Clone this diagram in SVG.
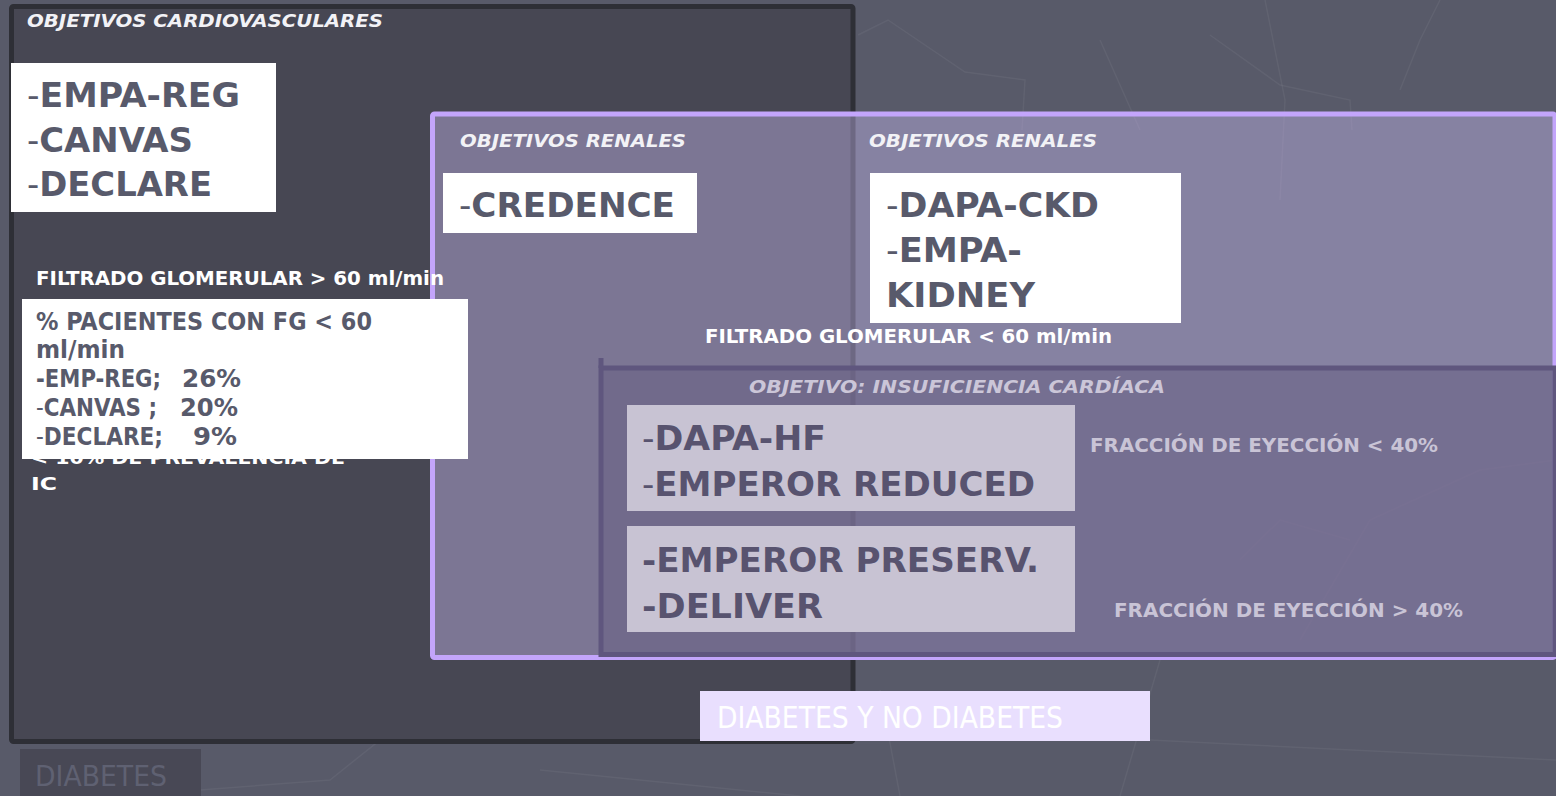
<svg xmlns="http://www.w3.org/2000/svg" width="1556" height="796" viewBox="0 0 1556 796">
  <defs>
    <style>
      .title { font-family: "DejaVu Sans", Verdana, sans-serif; font-weight: bold; font-style: italic; font-size: 18px; fill: #f2f2f6; }
      .big { font-family: "DejaVu Sans Condensed", "DejaVu Sans", sans-serif; font-weight: bold; font-size: 34px; fill: #585a6b; }
      .bigic { font-family: "DejaVu Sans Condensed", "DejaVu Sans", sans-serif; font-weight: bold; font-size: 34px; fill: #58536f; }
      .thin { font-weight: normal; }
      .mid { font-family: "DejaVu Sans Condensed", "DejaVu Sans", sans-serif; font-weight: bold; font-size: 24px; fill: #585a6b; }
      .note { font-family: "DejaVu Sans Condensed", "DejaVu Sans", sans-serif; font-weight: bold; font-size: 20px; fill: #ffffff; }
      .notev { font-family: "DejaVu Sans", Verdana, sans-serif; font-weight: bold; font-size: 18px; fill: #ffffff; }
      .frac { font-family: "DejaVu Sans Condensed", "DejaVu Sans", sans-serif; font-weight: bold; font-size: 20px; fill: #c9c4d6; }
      .label { font-family: "DejaVu Sans Condensed", "DejaVu Sans", sans-serif; font-size: 30px; }
      .tex { fill: none; stroke: #ffffff; stroke-opacity: 0.05; stroke-width: 1.5; }
    </style>
  </defs>

  <!-- backdrop -->
  <rect x="0" y="0" width="1556" height="796" fill="#585a69"/>
  <g id="texture">
    <polyline class="tex" points="858,35 888,20 965,72 1025,80 1022,130"/>
    <polyline class="tex" points="1100,40 1140,130"/>
    <polyline class="tex" points="1210,35 1280,85 1350,100 1352,130"/>
    <polyline class="tex" points="1265,0 1285,100 1280,200"/>
    <polyline class="tex" points="1400,90 1420,40 1440,0"/>
    <polyline class="tex" points="20,560 120,600 200,580 240,530"/>
    <polyline class="tex" points="60,600 150,580 275,570 380,740 330,780 200,790 20,760"/>
    <polyline class="tex" points="30,665 140,618 255,585 360,690 290,730 180,735"/>
    <polyline class="tex" points="490,730 600,600 480,500"/>
    <polyline class="tex" points="540,770 800,796"/>
    <polyline class="tex" points="1160,660 1120,796"/>
    <polyline class="tex" points="1300,640 1370,520 1480,470 1556,460"/>
    <polyline class="tex" points="1240,560 1280,520 1350,540"/>
    <polyline class="tex" points="880,690 900,796"/>
    <polyline class="tex" points="1150,740 1556,760"/>
  </g>

  <!-- region frames -->
  <g id="cardio-frame">
    <rect x="11.5" y="6.5" width="841.5" height="735" rx="2" fill="#474753" stroke="#2e2f36" stroke-width="5"/>
  </g>
  <g id="renal-frame">
    <rect x="432.5" y="114" width="1122.5" height="543.5" rx="2" fill="#cebff8" fill-opacity="0.4" stroke="#c3a5fb" stroke-width="5"/>
  </g>
  <g id="ic-frame">
    <rect x="601" y="368" width="954" height="286.5" fill="#6b6386" fill-opacity="0.6" stroke="#5f567e" stroke-width="5"/>
    <line x1="601" y1="358" x2="601" y2="368" stroke="#5f567e" stroke-width="5"/>
  </g>

  <!-- cardiovascular outcome trials -->
  <g id="cardio">
    <text class="title" x="27" y="27" textLength="356" lengthAdjust="spacingAndGlyphs">OBJETIVOS CARDIOVASCULARES</text>
    <rect x="11" y="63" width="265" height="149" fill="#ffffff"/>
    <text class="big" x="27" y="107" textLength="213" lengthAdjust="spacingAndGlyphs"><tspan class="thin">-</tspan>EMPA-REG</text>
    <text class="big" x="27" y="152" textLength="166" lengthAdjust="spacingAndGlyphs"><tspan class="thin">-</tspan>CANVAS</text>
    <text class="big" x="27" y="196" textLength="185" lengthAdjust="spacingAndGlyphs"><tspan class="thin">-</tspan>DECLARE</text>
  </g>

  <g id="cardio-notes">
    <text class="note" x="36" y="285" textLength="408" lengthAdjust="spacingAndGlyphs">FILTRADO GLOMERULAR &gt; 60 ml/min</text>
    <text class="notev" x="31" y="464" textLength="314" lengthAdjust="spacingAndGlyphs">&lt; 10% DE PREVALENCIA DE</text>
    <text class="notev" x="31" y="490" textLength="26" lengthAdjust="spacingAndGlyphs">IC</text>
    <rect x="22" y="299" width="446" height="160" fill="#ffffff"/>
    <text class="mid" x="36" y="330" textLength="336" lengthAdjust="spacingAndGlyphs">% PACIENTES CON FG &lt; 60</text>
    <text class="mid" x="36" y="358" textLength="89" lengthAdjust="spacingAndGlyphs">ml/min</text>
    <text class="mid" x="36" y="387" textLength="125" lengthAdjust="spacingAndGlyphs">-EMP-REG;</text>
    <text class="mid" x="182" y="387" textLength="59" lengthAdjust="spacingAndGlyphs">26%</text>
    <text class="mid" x="36" y="416" textLength="121" lengthAdjust="spacingAndGlyphs"><tspan class="thin">-</tspan>CANVAS ;</text>
    <text class="mid" x="180" y="416" textLength="58" lengthAdjust="spacingAndGlyphs">20%</text>
    <text class="mid" x="36" y="445" textLength="127" lengthAdjust="spacingAndGlyphs"><tspan class="thin">-</tspan>DECLARE;</text>
    <text class="mid" x="193" y="445" textLength="44" lengthAdjust="spacingAndGlyphs">9%</text>
  </g>

  <!-- renal outcome trials -->
  <g id="renal-credence">
    <text class="title" x="460" y="147" textLength="226" lengthAdjust="spacingAndGlyphs">OBJETIVOS RENALES</text>
    <rect x="443" y="173" width="254" height="60" fill="#ffffff"/>
    <text class="big" x="459" y="217" textLength="216" lengthAdjust="spacingAndGlyphs"><tspan class="thin">-</tspan>CREDENCE</text>
  </g>

  <g id="renal-ckd">
    <text class="title" x="869" y="147" textLength="228" lengthAdjust="spacingAndGlyphs">OBJETIVOS RENALES</text>
    <rect x="870" y="173" width="311" height="150" fill="#ffffff"/>
    <text class="big" x="886" y="217" textLength="213" lengthAdjust="spacingAndGlyphs"><tspan class="thin">-</tspan>DAPA-CKD</text>
    <text class="big" x="886" y="262" textLength="136" lengthAdjust="spacingAndGlyphs"><tspan class="thin">-</tspan>EMPA-</text>
    <text class="big" x="886" y="307" textLength="149" lengthAdjust="spacingAndGlyphs">KIDNEY</text>
    <text class="note" x="705" y="343" textLength="407" lengthAdjust="spacingAndGlyphs">FILTRADO GLOMERULAR &lt; 60 ml/min</text>
  </g>

  <!-- heart failure trials -->
  <g id="hf-title">
    <text class="title" x="749" y="393" textLength="416" lengthAdjust="spacingAndGlyphs" fill="#cbc6d8" style="fill:#cbc6d8">OBJETIVO: INSUFICIENCIA CARDÍACA</text>
  </g>
  <g id="hf-reduced">
    <rect x="627" y="405" width="448" height="106" fill="#c8c3d3"/>
    <text class="bigic" x="642" y="450" textLength="184" lengthAdjust="spacingAndGlyphs"><tspan class="thin">-</tspan>DAPA-HF</text>
    <text class="bigic" x="642" y="496" textLength="393" lengthAdjust="spacingAndGlyphs"><tspan class="thin">-</tspan>EMPEROR REDUCED</text>
    <text class="frac" x="1090" y="452" textLength="348" lengthAdjust="spacingAndGlyphs">FRACCIÓN DE EYECCIÓN &lt; 40%</text>
  </g>
  <g id="hf-preserved">
    <rect x="627" y="526" width="448" height="106" fill="#c8c3d3"/>
    <text class="bigic" x="642" y="572" textLength="397" lengthAdjust="spacingAndGlyphs">-EMPEROR PRESERV.</text>
    <text class="bigic" x="642" y="618" textLength="181" lengthAdjust="spacingAndGlyphs">-DELIVER</text>
    <text class="frac" x="1114" y="617" textLength="349" lengthAdjust="spacingAndGlyphs">FRACCIÓN DE EYECCIÓN &gt; 40%</text>
  </g>

  <!-- population labels -->
  <g id="label-mixed">
    <rect x="700" y="691" width="450" height="50" fill="#e9dffe"/>
    <text class="label" x="717" y="728" textLength="346" lengthAdjust="spacingAndGlyphs" fill="#ffffff">DIABETES Y NO DIABETES</text>
  </g>
  <g id="label-diabetes">
    <rect x="20" y="749" width="181" height="47" fill="#484855"/>
    <text class="label" x="35" y="786" textLength="132" lengthAdjust="spacingAndGlyphs" fill="#5f6172" style="font-size:28px">DIABETES</text>
  </g>

  <g id="connectors"/>
</svg>
